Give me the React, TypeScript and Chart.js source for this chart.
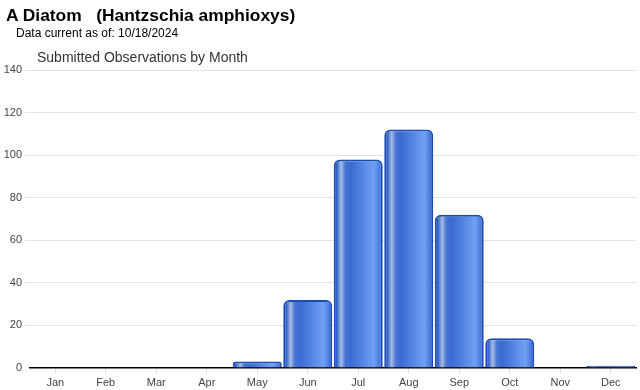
import React, { useEffect, useRef } from "react";
import { Chart, registerables } from "chart.js";

Chart.register(...registerables);

const months = ["Jan", "Feb", "Mar", "Apr", "May", "Jun", "Jul", "Aug", "Sep", "Oct", "Nov", "Dec"];
const observations = [0, 0, 0, 0, 3, 32, 98, 112, 72, 14, 0, 1];
const yTicks = [0, 20, 40, 60, 80, 100, 120, 140];

const FONT = "'Liberation Sans', Arial, sans-serif";
const BAR_PCT = 0.97;

function barFill(ctx: any) {
  const chart = ctx.chart;
  const xs = chart.scales?.x;
  if (!chart.chartArea || !xs) return "#3d6cd0";
  const cx = xs.getPixelForValue(ctx.dataIndex);
  const w = (xs.width / months.length) * BAR_PCT;
  const g = chart.ctx.createLinearGradient(cx - w / 2, 0, cx + w / 2, 0);
  g.addColorStop(0, "#1b4db5");
  g.addColorStop(0.06, "#2e60c6");
  g.addColorStop(0.15, "#a6bbe2");
  g.addColorStop(0.24, "#4673d3");
  g.addColorStop(0.35, "#3b6bd2");
  g.addColorStop(0.82, "#70a0f3");
  g.addColorStop(0.93, "#4c7ddf");
  g.addColorStop(1, "#1b4db5");
  return g;
}

export default function App() {
  const ref = useRef<HTMLCanvasElement>(null);
  useEffect(() => {
    if (!ref.current) return;
    const chart = new Chart(ref.current, {
      type: "bar",
      data: {
        labels: months,
        datasets: [
          {
            data: observations,
            backgroundColor: barFill,
            borderColor: "#1a4cb4",
            borderWidth: 2,
            borderRadius: { topLeft: 6, topRight: 6, bottomLeft: 0, bottomRight: 0 },
            borderSkipped: "bottom",
            barPercentage: BAR_PCT,
            categoryPercentage: 1,
          },
        ],
      },
      options: {
        animation: false,
        responsive: false,
        maintainAspectRatio: false,
        layout: { padding: { top: 70, right: 4, left: 0, bottom: 0 } },
        plugins: { legend: { display: false }, tooltip: { enabled: false }, title: { display: false } },
        scales: {
          x: {
            afterFit: (s: any) => {
              s.height = 22;
            },
            grid: { drawOnChartArea: false, drawTicks: true, tickLength: 5, color: "#d9d9d9", offset: false },
            border: { display: true, color: "#000000", width: 1.5 },
            ticks: { color: "#444444", font: { family: FONT, size: 11 }, padding: 3, maxRotation: 0 },
          },
          y: {
            min: 0,
            max: 140,
            afterFit: (s: any) => {
              s.width = 30;
            },
            afterBuildTicks: (s: any) => {
              s.ticks = yTicks.map((v) => ({ value: v }));
            },
            grid: {
              color: (c: any) => (c.tick && c.tick.value === 0 ? "rgba(0,0,0,0)" : "#e3e3e3"),
              tickLength: 5,
            },
            border: { display: false },
            ticks: { color: "#444444", font: { family: FONT, size: 11 }, padding: 3 },
          },
        },
      },
    });
    return () => chart.destroy();
  }, []);

  return (
    <div style={{ position: "absolute", left: 0, top: 0, width: 640, height: 390, background: "#fff", fontFamily: FONT }}>
      <canvas ref={ref} width={640} height={390} style={{ position: "absolute", left: 0, top: 0, width: 640, height: 390 }} />
      <div style={{ position: "absolute", left: 6, top: 5, fontSize: 17.4, fontWeight: "bold", color: "#000", whiteSpace: "pre", lineHeight: "20px" }}>
        {"A Diatom   (Hantzschia amphioxys)"}
      </div>
      <div style={{ position: "absolute", left: 16, top: 26, fontSize: 12, color: "#000", whiteSpace: "pre", lineHeight: "14px" }}>
        {"Data current as of: 10/18/2024"}
      </div>
      <div style={{ position: "absolute", left: 37, top: 49, fontSize: 14, color: "#333", whiteSpace: "pre", lineHeight: "17px" }}>
        {"Submitted Observations by Month"}
      </div>
    </div>
  );
}
